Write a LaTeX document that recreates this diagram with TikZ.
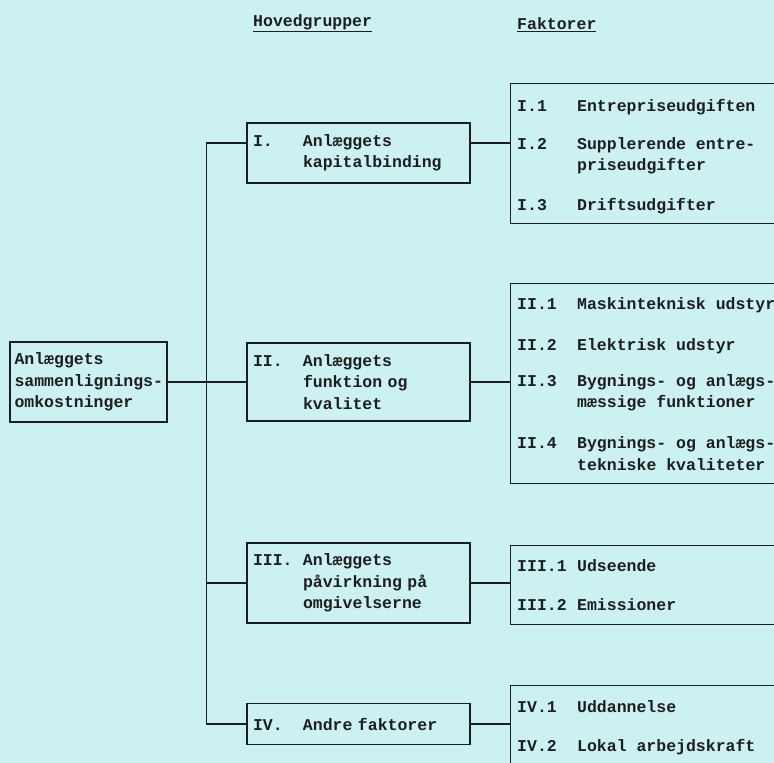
\documentclass[tikz,border=0pt]{standalone}
\usepackage{fontspec}
\setmonofont{Liberation Mono}
\usetikzlibrary{positioning}
\definecolor{papir}{RGB}{204,241,242}
\definecolor{ink}{RGB}{30,30,30}
\newcommand{\nr}[2]{\makebox[60pt][l]{#1}#2}
\newcommand{\grp}[2]{\makebox[50pt][l]{#1}#2}

\begin{document}
\begin{tikzpicture}[x=1pt,y=-1pt,
        every node/.style={font=\ttfamily\bfseries\fontsize{16.5}{21.5}\selectfont, text=ink},
        lin/.style={draw=ink, line width=1.2pt},
        boks/.style={draw=ink, line width=1.3pt, inner xsep=6pt, inner ysep=0pt, text width=211pt, align=left},
        fboks/.style={draw=ink, line width=1.3pt, inner sep=0pt, minimum width=300pt, anchor=north west},
        tekst/.style={inner sep=0pt, anchor=base west, align=left}]
        \clip (0,0) rectangle (774,763);
        \fill[papir] (0,0) rectangle (774,763);
        % overskrifter
        \node[inner sep=0pt, anchor=west] (hoved) at (253,23) {\underline{Hovedgrupper}};
        \node[inner sep=0pt, anchor=west] (fakt) at (517,25) {\underline{Faktorer}};
        % venstre boks
        \node[boks, text width=148pt, inner xsep=4.5pt, minimum height=80pt] (root) at (88.5,382) {Anlæggets\\sammenlignings-\\omkostninger};
        % hovedgrupper
        \node[boks, minimum height=60pt] (g1) at (358.5,153) {\grp{I.}{Anlæggets}\\\grp{}{kapitalbinding}};
        \node[boks, minimum height=78pt] (g2) at (358.5,382) {\grp{II.}{Anlæggets}\\\grp{}{funktion og}\\\grp{}{kvalitet}};
        \node[boks, minimum height=80pt] (g3) at (358.5,583) {\grp{III.}{Anlæggets}\\\grp{}{påvirkning på}\\\grp{}{omgivelserne}};
        \node[boks, minimum height=41pt] (g4) at (358.5,724) {\grp{IV.}{Andre faktorer}};
        % faktorer
        \node[fboks, minimum height=140pt] (f1) at (510,83) {};
        \node[fboks, minimum height=200pt] (f2) at (510,283) {};
        \node[fboks, minimum height=79pt] (f3) at (510,545) {};
        \node[fboks, minimum height=120pt] (f4) at (510,685) {};
        \node[tekst] (i11) at (517,111) {\nr{I.1}{Entrepriseudgiften}};
        \node[tekst] (i12) at (517,170.5) {\nr{I.2}{Supplerende entre-}\\\nr{}{priseudgifter}};
        \node[tekst] (i13) at (517,210) {\nr{I.3}{Driftsudgifter}};
        \node[tekst] (i21) at (517,309) {\nr{II.1}{Maskinteknisk udstyr}};
        \node[tekst] (i22) at (517,350) {\nr{II.2}{Elektrisk udstyr}};
        \node[tekst] (i23) at (517,407.5) {\nr{II.3}{Bygnings- og anlægs-}\\\nr{}{mæssige funktioner}};
        \node[tekst] (i24) at (517,470) {\nr{II.4}{Bygnings- og anlægs-}\\\nr{}{tekniske kvaliteter}};
        \node[tekst] (i31) at (517,571) {\nr{III.1}{Udseende}};
        \node[tekst] (i32) at (517,610) {\nr{III.2}{Emissioner}};
        \node[tekst] (i41) at (517,712) {\nr{IV.1}{Uddannelse}};
        \node[tekst] (i42) at (517,751) {\nr{IV.2}{Lokal arbejdskraft}};
        % forbindelser
        \coordinate (k1) at ([yshift=10pt]g1.west);
        \coordinate (k2) at ([yshift=10pt]g1.east);
        \draw[lin] (k1) -- ++(-40,0) |- (g4.west);
        \draw[lin] (g3.west) -- ++(-40,0);
        \draw[lin] (root.east) -- (g2.west);
        \draw[lin] (k2) -- (k2 -| f1.west);
        \draw[lin] (g2.east) -- (g2.east -| f2.west);
        \draw[lin] (g3.east) -- (g3.east -| f3.west);
        \draw[lin] (g4.east) -- (g4.east -| f4.west);
\end{tikzpicture}
\end{document}
